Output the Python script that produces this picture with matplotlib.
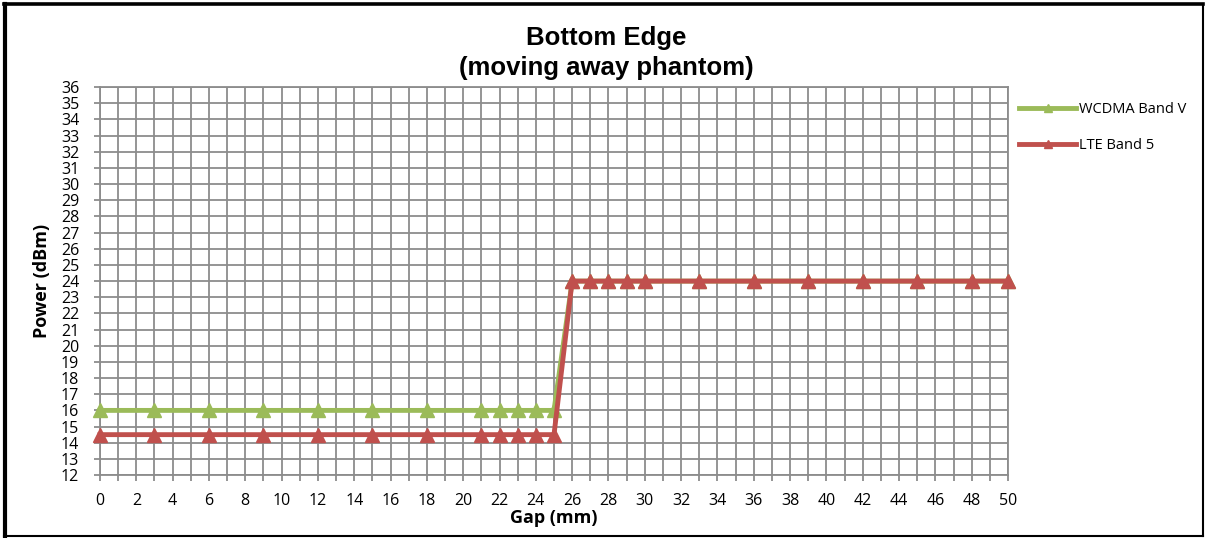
import matplotlib
matplotlib.use("Agg")
import matplotlib.pyplot as plt
from matplotlib.lines import Line2D
from matplotlib.ticker import MultipleLocator

gap_mm = [0, 3, 6, 9, 12, 15, 18, 21, 22, 23, 24, 25,
          26, 27, 28, 29, 30, 33, 36, 39, 42, 45, 48, 50]
wcdma_band_v = [16, 16, 16, 16, 16, 16, 16, 16, 16, 16, 16, 16,
                24, 24, 24, 24, 24, 24, 24, 24, 24, 24, 24, 24]
lte_band_5 = [14.5, 14.5, 14.5, 14.5, 14.5, 14.5, 14.5, 14.5, 14.5, 14.5, 14.5, 14.5,
              24, 24, 24, 24, 24, 24, 24, 24, 24, 24, 24, 24]

fig = plt.figure(figsize=(12.05, 5.38), dpi=100)
ax = fig.add_axes([0.083, 0.117, 0.7535, 0.721])

grid_col = "#8c8c8c"
ax.plot(gap_mm, wcdma_band_v, color="#9bbb59", lw=3.5, marker="^", ms=10.5,
        label="WCDMA Band V", zorder=3, clip_on=False)
ax.plot(gap_mm, lte_band_5, color="#c0504d", lw=3.5, marker="^", ms=10.5,
        label="LTE Band 5", zorder=4, clip_on=False)

ax.set_xlim(0, 50)
ax.set_ylim(12, 36)
ax.xaxis.set_major_locator(MultipleLocator(2))
ax.xaxis.set_minor_locator(MultipleLocator(1))
ax.yaxis.set_major_locator(MultipleLocator(1))
ax.grid(True, which="both", color=grid_col, lw=1.3)
ax.set_axisbelow(True)
for s in ax.spines.values():
    s.set_color(grid_col)
    s.set_linewidth(1.3)
ax.tick_params(axis="both", which="both", color=grid_col, width=1.3, length=4,
               labelsize=11.5)
ax.tick_params(axis="x", pad=9)
ax.tick_params(axis="y", pad=11)
for lbl in ax.get_xticklabels() + ax.get_yticklabels():
    lbl.set_family("Open Sans")

# excel centres the title over the whole chart
fig.text(0.503, 1 - 45 / 538, "Bottom Edge", ha="center", va="baseline",
         fontsize=18.5, fontweight="bold", family="Liberation Sans")
fig.text(0.503, 1 - 75 / 538, "(moving away phantom)", ha="center", va="baseline",
         fontsize=18.5, fontweight="bold", family="Liberation Sans")
ax.set_xlabel("Gap (mm)", fontsize=13, fontweight="bold", family="Open Sans", labelpad=0)
ax.set_ylabel("Power (dBm)", fontsize=13, fontweight="bold", family="Open Sans", labelpad=7)

leg = ax.legend(loc="upper left", bbox_to_anchor=(0.998, 0.995), frameon=False,
                handlelength=3.9, labelspacing=1.45, handletextpad=0.2,
                prop={"family": "Open Sans", "size": 10.5}, markerscale=0.55)

# outer chart border: heavier on left and top like the screenshot
W, H = 1205, 538
for xs, ys, w in [([5 / W, 5 / W], [0.003, 1 - 4 / H], 3.0),
                  ([0.003, 0.998], [1 - 4 / H, 1 - 4 / H], 2.6),
                  ([1 - 2 / W, 1 - 2 / W], [0.003, 1 - 4 / H], 1.5),
                  ([0.003, 0.998], [2 / H, 2 / H], 1.5)]:
    fig.add_artist(Line2D(xs, ys, transform=fig.transFigure, color="black", lw=w))

fig.savefig("out.png", dpi=100)
